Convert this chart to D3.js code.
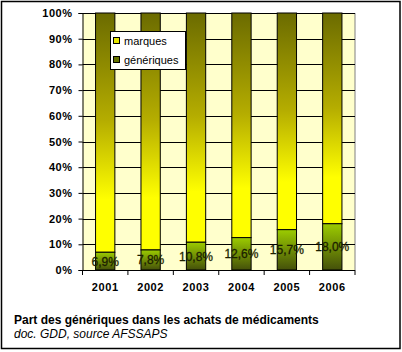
<!DOCTYPE html>
<html><head><meta charset="utf-8">
<script src="https://cdn.jsdelivr.net/npm/d3@7"></script>
<style>body{margin:0;background:#fff}svg{display:block;font-family:Arial,"Liberation Sans",sans-serif}</style>
</head><body>
<script>
const years = ["2001","2002","2003","2004","2005","2006"];
const generiques = [6.9, 7.8, 10.8, 12.6, 15.7, 18.0];
const marques = generiques.map(g => 100 - g);
const yTicks = [0,10,20,30,40,50,60,70,80,90,100];
const seriesNames = ["marques","génériques"];
const title = "Part des génériques dans les achats de médicaments";
const subtitle = "doc. GDD, source AFSSAPS";

const W = 402, H = 352;
const svg = d3.select("body").append("svg").attr("width", W).attr("height", H);
const defs = svg.append("defs");
const gm = defs.append("linearGradient").attr("id","gm").attr("x1",0).attr("y1",0).attr("x2",0).attr("y2",1);
gm.append("stop").attr("offset","0").attr("stop-color","#6b6b00");
gm.append("stop").attr("offset","0.45").attr("stop-color","#b5ad00");
gm.append("stop").attr("offset","0.78").attr("stop-color","#ffff00");
gm.append("stop").attr("offset","1").attr("stop-color","#ffff00");
const gg = defs.append("linearGradient").attr("id","gg").attr("x1",0).attr("y1",0).attr("x2",0).attr("y2",1);
gg.append("stop").attr("offset","0").attr("stop-color","#9ccc00");
gg.append("stop").attr("offset","1").attr("stop-color","#44500a");

// outer frame
svg.append("rect").attr("x",1.5).attr("y",1.5).attr("width",398.5).attr("height",347).attr("fill","#fff").attr("stroke","#000").attr("stroke-width",1.5);

const L = 82.5, R = 355, T = 13, B = 270;
const x = d3.scaleBand().domain(years).range([L, R]).paddingInner(0.575).paddingOuter(0.2875);
const y = d3.scaleLinear().domain([0, 100]).range([B, T]);

svg.append("rect").attr("x",L).attr("y",T).attr("width",R-L).attr("height",B-T).attr("fill","#ffffcc");
svg.append("line").attr("x1",R).attr("x2",R).attr("y1",T).attr("y2",B).attr("stroke","#808080");

// grid
svg.append("g").selectAll("line").data(yTicks).join("line")
  .attr("x1",L).attr("x2",R).attr("y1",d=>Math.round(y(d))+0.5).attr("y2",d=>Math.round(y(d))+0.5)
  .attr("stroke","#000").attr("stroke-width",1);

// y axis
const ya = svg.append("g").attr("transform",`translate(${L},0)`)
  .call(d3.axisLeft(y).tickValues(yTicks).tickSize(4).tickPadding(6).tickFormat(d=>d+"%"));
ya.select(".domain").attr("stroke","#000");
ya.selectAll("text").attr("font-size",11).attr("font-weight","bold").attr("fill","#000").attr("font-family","Arial, 'Liberation Sans', sans-serif").attr("letter-spacing","0.5");

// bars
const bars = svg.append("g");
bars.selectAll("rect.m").data(years).join("rect").attr("class","m")
  .attr("x",d=>x(d)).attr("width",x.bandwidth())
  .attr("y",(d,i)=>y(generiques[i]+marques[i])).attr("height",(d,i)=>y(generiques[i])-y(generiques[i]+marques[i]))
  .attr("fill","url(#gm)").attr("stroke","#000").attr("stroke-width",1);
bars.selectAll("rect.g").data(years).join("rect").attr("class","g")
  .attr("x",d=>x(d)).attr("width",x.bandwidth())
  .attr("y",(d,i)=>y(generiques[i])).attr("height",(d,i)=>y(0)-y(generiques[i]))
  .attr("fill","url(#gg)").attr("stroke","#000").attr("stroke-width",1);

// x axis
svg.append("line").attr("x1",L).attr("x2",R).attr("y1",B+0.5).attr("y2",B+0.5).attr("stroke","#000");
const step = x.step();
svg.append("g").selectAll("line").data(d3.range(years.length+1)).join("line")
  .attr("x1",i=>L+i*step).attr("x2",i=>L+i*step).attr("y1",B).attr("y2",B+5).attr("stroke","#000");
svg.append("g").selectAll("text").data(years).join("text")
  .attr("x",d=>x(d)+x.bandwidth()/2).attr("y",291).attr("text-anchor","middle")
  .attr("font-size",11).attr("font-weight","bold").attr("letter-spacing","0.6").text(d=>d);

// data labels
svg.append("g").selectAll("text").data(years).join("text")
  .attr("x",d=>x(d)+x.bandwidth()/2).attr("y",(d,i)=>(y(0)+y(generiques[i]))/2+4.5)
  .attr("text-anchor","middle").attr("font-size",12).attr("fill","#1c1f00")
  .attr("stroke","#1c1f00").attr("stroke-width",0.3)
  .text((d,i)=>d3.format(".1f")(generiques[i]).replace(".",",")+"%");

// legend
const lg = svg.append("g");
lg.append("rect").attr("x",110.5).attr("y",31.5).attr("width",75).attr("height",38).attr("fill","#fff").attr("stroke","#000");
const lcols = ["#e6e600","#667300"];
seriesNames.forEach((n,i)=>{
  const cy = 40.5 + i*19;
  lg.append("rect").attr("x",113.5).attr("y",cy-3).attr("width",6).attr("height",6).attr("fill",lcols[i]).attr("stroke","#000");
  lg.append("text").attr("x",124).attr("y",cy+4).attr("font-size",11).text(n);
});

// titles
svg.append("text").attr("x",14).attr("y",324).attr("font-size",12).attr("font-weight","bold").text(title);
svg.append("text").attr("x",14).attr("y",338).attr("font-size",12).attr("font-style","italic").text(subtitle);
</script>
</body></html>
